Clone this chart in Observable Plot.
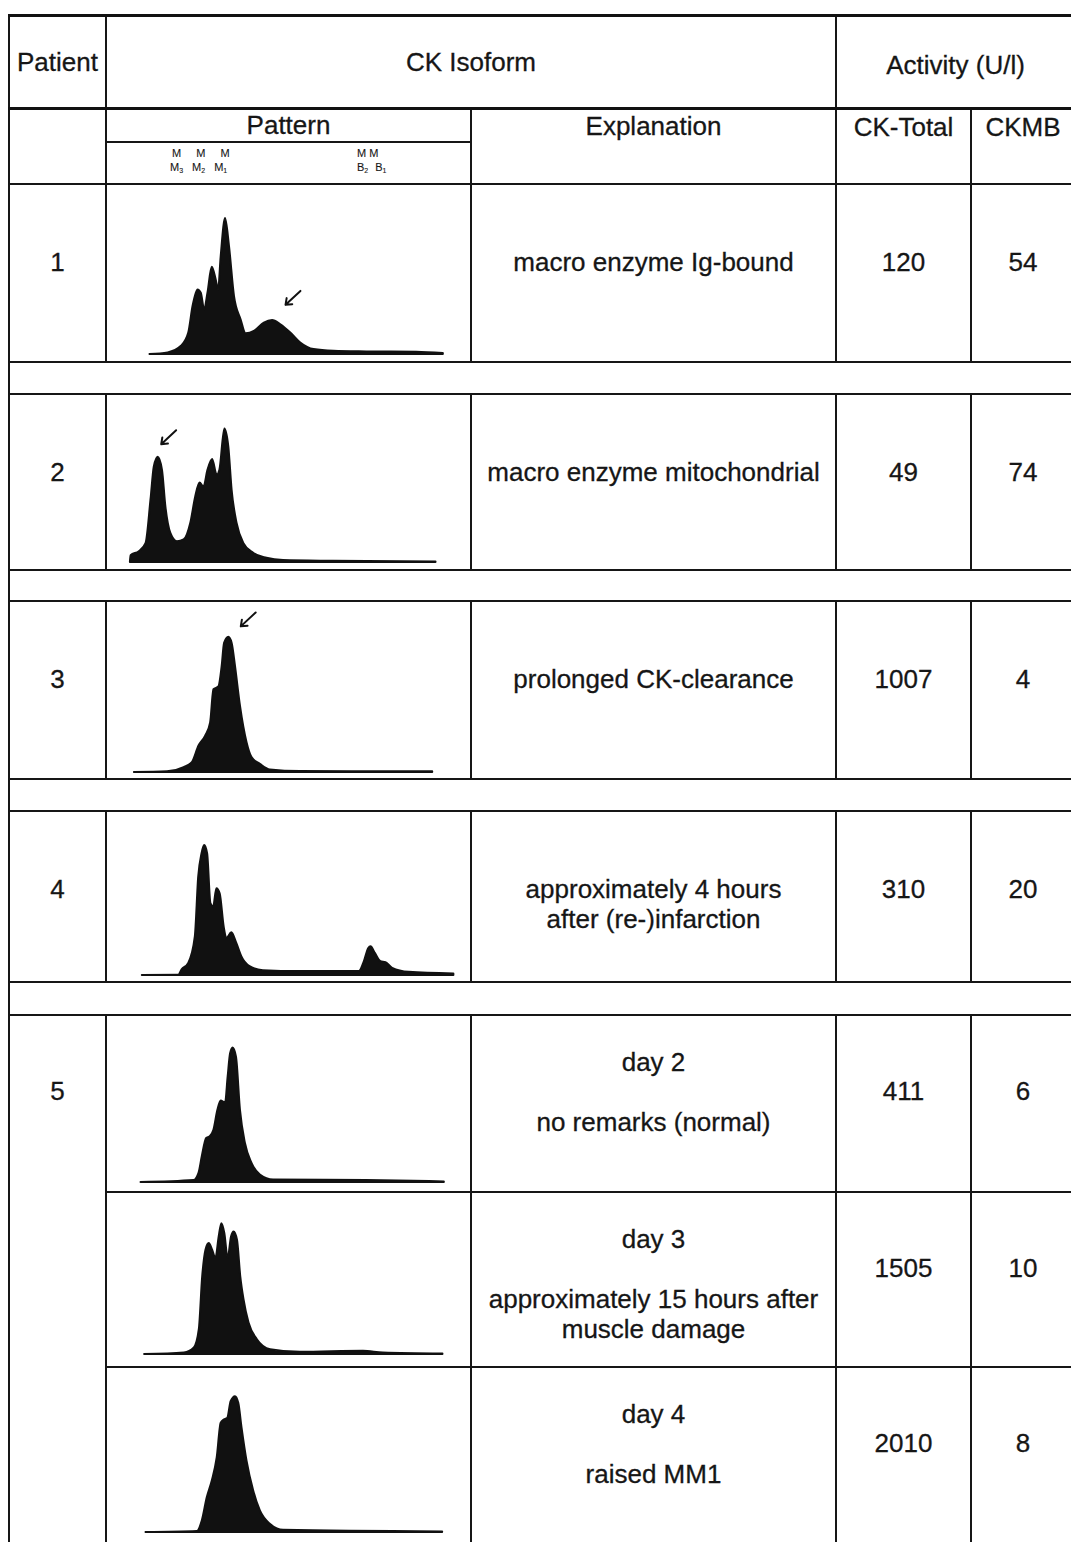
<!DOCTYPE html>
<html>
<head>
<meta charset="utf-8">
<script src="https://cdn.jsdelivr.net/npm/d3@7"></script>
<script src="https://cdn.jsdelivr.net/npm/@observablehq/plot@0.6"></script>
<style>
html,body{margin:0;padding:0;background:#fff;}
body{width:1071px;height:1542px;overflow:hidden;position:relative;font-family:"Liberation Sans",Arial,sans-serif;color:#161616;}
table{position:absolute;left:8px;top:14px;border-collapse:collapse;table-layout:fixed;width:1066px;font-size:26px;line-height:30px;-webkit-text-stroke:0.3px #161616;}
td{border:2px solid #161616;padding:0;text-align:center;vertical-align:top;overflow:hidden;white-space:pre-line;}
tr.h1 td{border-top:3px solid #111;border-bottom:3px solid #111;padding-top:30px;height:60px;}
tr.h2 td{height:73px;}
td.pat{padding:0;}
td.pat .pt{padding-top:0px;height:31px;border-bottom:2px solid #161616;}
td.pat .iso{position:relative;height:40px;font-size:11px;line-height:11px;-webkit-text-stroke:0.1px #161616;}
td.pat .iso span{position:absolute;white-space:nowrap;}
td.pat sub{font-size:7px;vertical-align:-2px;line-height:0;letter-spacing:0;margin-right:9px;}
td.pat .bb sub{margin-right:7px;}
tr.gap td{height:30px;}
td.graph{vertical-align:bottom;}
td.graph svg{display:block;}
tr.r td.txt{padding-top:62px;}
tr.r5 td.txt{padding-top:60px;}
tr.r5 td.expl{padding-top:31px;}
</style>
</head>
<body>
<table id="tbl">
<colgroup><col style="width:97px"><col style="width:365px"><col style="width:365px"><col style="width:135px"><col style="width:104px"></colgroup>
<tbody id="tb"></tbody>
</table>
<script>
// ---- header texts ----
const headTop = ["Patient", "CK Isoform", "Activity (U/l)"];
const headSub = ["Pattern", "Explanation", "CK-Total", "CKMB"];
const isoLeft = ["M M M", "M<sub>3</sub>M<sub>2</sub>M<sub>1</sub>"];
const isoRight = ["M M", "B<sub>2</sub>B<sub>1</sub>"];

// ---- table values ----
const patients = ["1", "2", "3", "4", "5", "5", "5"];
const dayLabels = ["", "", "", "", "day 2", "day 3", "day 4"];
const explanations = [
  "macro enzyme Ig-bound",
  "macro enzyme mitochondrial",
  "prolonged CK-clearance",
  "approximately 4 hours\nafter (re-)infarction",
  "no remarks (normal)",
  "approximately 15 hours after\nmuscle damage",
  "raised MM1"
];
const ckTotal = [120, 49, 1007, 310, 411, 1505, 2010];
const ckmb = [54, 74, 4, 20, 6, 10, 8];

// ---- densitometry patterns (mobility across the lane, peak height) ----
const mob1 = [41.7, 60, 73.3, 80.7, 85, 90, 93.3, 96.7, 100, 104.3, 108.3, 110.7, 113.3, 117.7, 121.7, 126.7, 133.3, 138.3, 146.7, 156.7, 165, 173.3, 183.3, 193.3, 206.7, 226.7, 260, 310, 336.7];
const int1 = [0, 1.7, 8.3, 21.7, 48.3, 65, 61.7, 45, 61.7, 87.7, 75, 65, 98.3, 136.7, 108.3, 58.3, 35, 21, 23.3, 31.7, 34.3, 30, 21.7, 11.7, 5, 3.3, 2.7, 2.3, 1];

const mob2 = [22, 22.7, 31, 37.7, 42.7, 46, 50, 54.3, 57.7, 62.7, 69.3, 76, 82.7, 87.7, 92, 96, 100, 104.7, 109.3, 112, 117, 121, 124.3, 129.3, 136, 146, 159.3, 176, 226, 329.3];
const int2 = [0, 7, 11, 19, 62.7, 96, 106, 92.7, 56, 29.3, 21, 22.7, 39.3, 66, 80, 76, 92.7, 103.7, 87.7, 92.7, 134.3, 116, 72.7, 39.3, 19.3, 9.3, 4.3, 2, 1.3, 0.7];

const mob3 = [24, 57.3, 74, 82.3, 89, 95.7, 100.7, 104, 109, 112.3, 114.7, 119, 122.3, 125.7, 130.7, 137.3, 142.3, 150.7, 160.7, 190.7, 324];
const int3 = [0, 0.7, 5, 10, 26.7, 36.7, 50, 83.3, 86, 106.7, 130, 136, 130, 106.7, 66.7, 30, 15, 8.3, 2.7, 1, 0.7];

const mob4 = [30, 66.7, 70, 76.7, 83.3, 86.7, 90, 92.7, 95.7, 99, 101.7, 105, 108.3, 112.3, 115, 120, 125, 130, 138.3, 151.7, 188.3, 248.3, 253.3, 257.7, 260, 264.3, 270, 275, 281.7, 298.3, 343.3];
const int4 = [0, 0.3, 5.7, 12.3, 39, 99, 122.3, 130.7, 122.3, 72.3, 69, 87.3, 82.3, 49, 37.3, 43, 32.3, 19, 9, 5, 4, 4, 14, 27.3, 29, 22.3, 14, 13, 7.3, 3.3, 1.7];

const mob5a = [26.7, 80, 85, 88.3, 92.7, 96, 100, 104, 107.3, 111.7, 114.3, 116.7, 119.3, 122.7, 126.7, 131.7, 138.3, 146.7, 160, 253.3, 331.7];
const int5a = [0, 2, 9.3, 26, 44.3, 46, 52.7, 72.7, 82, 80, 106, 129.3, 135.3, 126, 72.7, 39.3, 19.3, 7.7, 2.7, 2, 0.7];

const mob5b = [28.3, 68.3, 78.3, 83.3, 86.7, 90, 93.3, 96.7, 100, 103.3, 106, 109, 112.3, 115.7, 118.3, 121.7, 125, 128.3, 133.3, 141.7, 155, 185, 248.3, 268.3, 328.3];
const int5b = [0, 1.7, 6.7, 25, 78.3, 105, 111.7, 105, 96.7, 118.3, 131.7, 121.7, 96.7, 118.3, 123.3, 115, 78.3, 55, 31.7, 15, 5, 2.3, 3.3, 1.7, 0.7];

const mob5c = [27.7, 79.3, 84.3, 89.3, 94.3, 99.3, 103.3, 106.7, 110, 113.3, 117.7, 121, 124.3, 129.3, 136, 142.7, 152.7, 166, 326];
const int5c = [0, 1, 11.7, 35, 51.7, 75, 110, 113.3, 115, 131.7, 136.7, 130, 105, 71.7, 41.7, 21.7, 8.3, 2.3, 0.7];

// arrows marking the abnormal fraction: lane index, target mobility, target height
const arrowLane = [0, 1, 2];
const arrowMob = [178, 53, 131];
const arrowInt = [50, 119, 147];

const lanes = [[mob1, int1], [mob2, int2], [mob3, int3], [mob4, int4], [mob5a, int5a], [mob5b, int5b], [mob5c, int5c]];

// ---- layout (not data) ----
const layout = {
  laneWidth: 365,
  rowHeight: [177, 175, 177, 170, 176, 174, 190],
  baseline: [7, 7, 6, 6, 9, 12, 25],
  laneShift: [1, 1, 3, 5, 7, 9, 11],
  gapHeight: [30, 29, 30, 31],
  gapAfter: [true, true, true, true, false, false, false]
};

function lanePlot(i) {
  const [mob, inten] = lanes[i];
  const h = layout.rowHeight[i];
  const base = layout.baseline[i];
  const sh = layout.laneShift[i];
  const data = mob.map((m, k) => ({m, v: inten[k]}));
  const marks = [
    Plot.areaY(data, {x: "m", y: "v", curve: "monotone-x", fill: "#111", stroke: "#111", strokeWidth: 2})
  ];
  const arr = arrowLane.map((l, k) => ({l, x: arrowMob[k], y: arrowInt[k]})).filter(d => d.l === i);
  if (arr.length) {
    marks.push(Plot.arrow(arr, {x1: d => d.x + 15, y1: d => d.y + 14, x2: "x", y2: "y", stroke: "#111", strokeWidth: 2, headLength: 8, headAngle: 75}));
  }
  return Plot.plot({
    width: layout.laneWidth, height: h,
    marginTop: 0, marginLeft: 0, marginRight: 0, marginBottom: base,
    x: {domain: [-sh, layout.laneWidth - sh], axis: null},
    y: {domain: [0, h - base], axis: null},
    style: {background: "transparent", overflow: "visible"},
    marks
  });
}

const tb = document.getElementById("tb");
function el(tag, cls, html) { const e = document.createElement(tag); if (cls) e.className = cls; if (html != null) e.innerHTML = html; return e; }

// header row 1
const h1 = el("tr", "h1");
h1.appendChild(el("td", "", headTop[0]));
const c2 = el("td", "", headTop[1]); c2.colSpan = 2; h1.appendChild(c2);
const c3 = el("td", "", headTop[2]); c3.colSpan = 2; c3.style.paddingTop = "33px"; c3.style.height = "57px"; h1.appendChild(c3);
tb.appendChild(h1);

// header row 2
const h2 = el("tr", "h2");
h2.appendChild(el("td", ""));
const pat = el("td", "pat");
pat.appendChild(el("div", "pt", headSub[0]));
const iso = el("div", "iso");
const s1 = el("span", "", isoLeft[0]); s1.style.left = "65px"; s1.style.top = "5px"; s1.style.wordSpacing = "12px";
const s2 = el("span", "", isoLeft[1]); s2.style.left = "63px"; s2.style.top = "19px";
const s3 = el("span", "", isoRight[0]); s3.style.left = "250px"; s3.style.top = "5px";
const s4 = el("span", "bb", isoRight[1]); s4.style.left = "250px"; s4.style.top = "19px";
[s1, s2, s3, s4].forEach(s => iso.appendChild(s));
pat.appendChild(iso);
h2.appendChild(pat);
[1, 2, 3].forEach(k => { const c = el("td", "", headSub[k]); c.style.paddingTop = (k === 1 ? 1 : 2) + "px"; c.style.height = (k === 1 ? 72 : 71) + "px"; h2.appendChild(c); });
tb.appendChild(h2);

// data rows
let gi = 0;
patients.forEach((p, i) => {
  const in5 = i >= 4;
  const tr = el("tr", in5 ? "r5" : "r");
  tr.style.height = layout.rowHeight[i] + "px";
  if (!in5 || i === 4) {
    const pc = el("td", "txt", p);
    if (in5) pc.rowSpan = 3;
    tr.appendChild(pc);
  }
  const g = el("td", "graph");
  g.appendChild(lanePlot(i));
  tr.appendChild(g);
  const ex = el("td", in5 ? "txt expl" : "txt", (dayLabels[i] ? dayLabels[i] + "\n\n" : "") + explanations[i]);
  tr.appendChild(ex);
  tr.appendChild(el("td", "txt", String(ckTotal[i])));
  tr.appendChild(el("td", "txt", String(ckmb[i])));
  tb.appendChild(tr);
  if (layout.gapAfter[i]) {
    const gr = el("tr", "gap");
    const gc = el("td", ""); gc.colSpan = 5;
    gc.style.height = layout.gapHeight[gi++] + "px";
    gr.appendChild(gc);
    tb.appendChild(gr);
  }
});
</script>
</body>
</html>
